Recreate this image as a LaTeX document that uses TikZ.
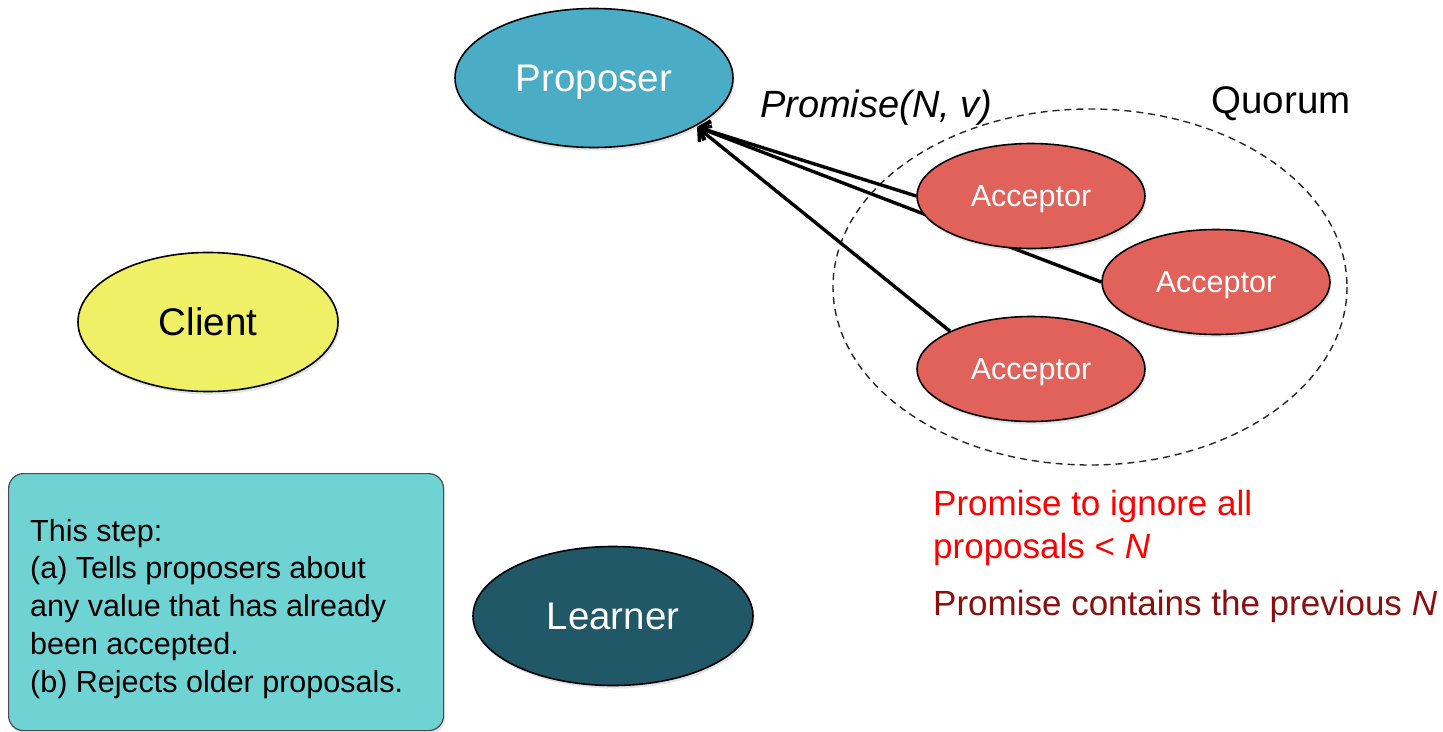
\documentclass[tikz,border=0pt]{standalone}
\usepackage{fontspec}
\setmainfont{Liberation Sans}
\usetikzlibrary{shapes.geometric,arrows.meta,shadows,backgrounds}
\definecolor{propc}{HTML}{4BACC6}
\definecolor{clientc}{HTML}{F0F066}
\definecolor{learnc}{HTML}{215868}
\definecolor{accc}{HTML}{E1625A}
\definecolor{boxc}{HTML}{6FD3D3}
\definecolor{redc}{HTML}{FF0000}
\definecolor{dredc}{HTML}{8B0F0F}
\tikzset{
  big/.style={font=\fontsize{38.5}{46}\selectfont},
  role/.style={ellipse, draw=black, line width=1.6pt, inner sep=0pt, text depth=0pt,
    drop shadow={opacity=0.22, shadow xshift=1.5pt, shadow yshift=-3pt}},
  accnode/.style={role, fill=accc, minimum width=228, minimum height=105,
    text=white, font=\fontsize{30.5}{36}\selectfont},
  reply/.style={line width=3.4pt, -{Straight Barb[length=9pt,width=20pt]}},
  quorum/.style={draw=black!85, line width=1.4pt, dash pattern=on 7pt off 5pt},
  notebox/.style={draw=black!70, line width=1.2pt, fill=boxc, rounded corners=15pt,
    drop shadow={opacity=0.22, shadow xshift=1.5pt, shadow yshift=-3pt}},
}
\begin{document}
\begin{tikzpicture}[x=1pt,y=-1pt]
\useasboundingbox (0,0) rectangle (1443,731);
% quorum
\draw[quorum] (1090,287) ellipse [x radius=257, y radius=178];
\node[anchor=base west, big] (qlabel) at (1208,113) {Quorum};
% nodes
\node[role, fill=propc, minimum width=278, minimum height=139, text=white, big] (prop) at (594,78) {Proposer};
\node[role, fill=clientc, minimum width=260, minimum height=139, big] (client) at (208,322) {Client};
\node[role, fill=learnc, minimum width=280, minimum height=139, text=white, big] (learn) at (613,616) {Learner};
\node[accnode] (acc1) at (1031,196) {Acceptor};
\node[accnode] (acc2) at (1216,282) {Acceptor};
\node[accnode] (acc3) at (1031,369) {Acceptor};
\coordinate (tip) at (697,127);
% connectors
\begin{scope}[on background layer]
\draw[reply] (acc2.west) -- (tip);
\end{scope}
\draw[reply] (acc1.west) -- (tip);
\draw[reply] (acc3.155) -- (tip);
\node[anchor=base west, font=\fontsize{38}{44}\selectfont\itshape, inner sep=0pt] (plabel) at (760,117) {Promise(N, v)};
% note box
\node[notebox, anchor=north west, minimum width=435, minimum height=257] (note) at (8,473) {};
\node[anchor=base west, align=left, font=\fontsize{30.5}{37.7}\selectfont, inner sep=0pt] (notetext) at (30,692)
  {This step:\\(a) Tells proposers about\\any value that has already\\been accepted.\\(b) Rejects older proposals.};
% red texts
\node[anchor=base west, align=left, text=redc, font=\fontsize{35}{43}\selectfont, inner sep=0pt] (red1) at (933,558)
  {Promise to ignore all\\proposals < \textit{N}};
\node[anchor=base west, text=dredc, font=\fontsize{35}{43}\selectfont, inner sep=0pt] (red2) at (933,615)
  {Promise contains the previous \textit{N}};
\end{tikzpicture}
\end{document}
